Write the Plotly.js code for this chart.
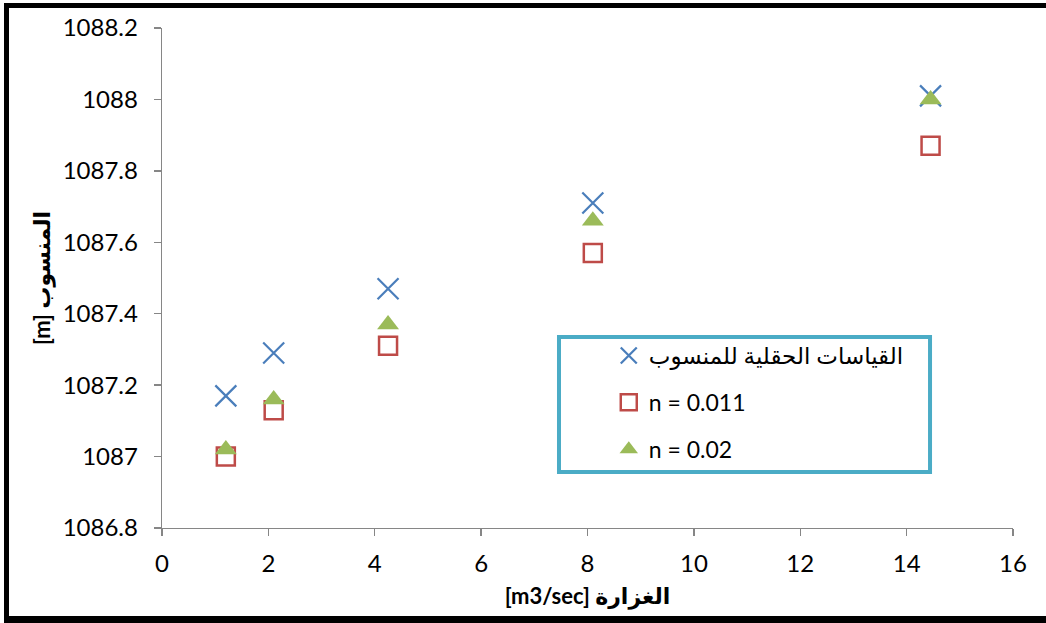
<!DOCTYPE html>
<html>
<head>
<meta charset="utf-8">
<script src="https://cdn.plot.ly/plotly-3.0.1.min.js"></script>
<style>
  html, body { margin: 0; padding: 0; background: #ffffff; overflow: hidden; }
  #chart { width: 1046px; height: 623px; }
  #frame {
    position: absolute; left: 4px; top: 3px; width: 1100px; height: 620px;
    box-sizing: border-box; border-left: 5px solid #000; border-top: 5px solid #000;
    border-bottom: 7px solid #000; pointer-events: none;
  }
</style>
</head>
<body>
<div id="chart"></div>
<div id="frame"></div>
<script>
// Discharge (m3/sec) at each station
const discharge = [1.2, 2.1, 4.25, 8.1, 14.45];

// Water level (m): field measurements and two Manning n runs
const levelMeasured = [1087.17, 1087.29, 1087.47, 1087.71, 1088.01];
const levelN011 = [1087.00, 1087.13, 1087.31, 1087.57, 1087.87];
const levelN02 = [1087.02, 1087.16, 1087.37, 1087.66, 1088.00];

const seriesNames = ['القياسات الحقلية للمنسوب', 'n = 0.011', 'n = 0.02'];
const xTitle = '[m3/sec] الغزارة';
const yTitle = '[m] المنسوب';

const baseFont = 'Lato, "DejaVu Sans", sans-serif';

const traces = [
  {
    x: discharge, y: levelMeasured, name: seriesNames[0], type: 'scatter', mode: 'markers',
    legendgroup: 'a',
    marker: { symbol: 'x-thin-open', size: 21, color: '#4A7EBB', line: { color: '#4A7EBB', width: 2.2 } }
  },
  {
    x: discharge, y: levelN011, name: seriesNames[1], type: 'scatter', mode: 'markers',
    legendgroup: 'b',
    marker: { symbol: 'square-open', size: 18, color: '#BE4B48', line: { color: '#BE4B48', width: 2.5 } }
  },
  {
    x: discharge, y: levelN02, name: seriesNames[2], type: 'scatter', mode: 'markers',
    legendgroup: 'c',
    marker: { symbol: 'triangle-up', size: 19, color: '#9BBB59', line: { width: 0 } }
  }
];

const layout = {
  width: 1046, height: 623,
  margin: { l: 162, r: 33, t: 28, b: 95 },
  paper_bgcolor: '#ffffff', plot_bgcolor: '#ffffff',
  font: { family: baseFont, size: 22, color: '#000000' },
  showlegend: true,
  legend: {
    x: 0.525, xanchor: 'left', y: 0.388, yanchor: 'top',
    bgcolor: 'rgba(0,0,0,0)', borderwidth: 0,
    font: { family: baseFont, size: 23, color: '#000000' },
    traceorder: 'grouped', tracegroupgap: 14
  },
  shapes: [{
    type: 'rect', xref: 'paper', yref: 'paper', layer: 'below',
    x0: 0.4665, x1: 0.9025, y0: 0.112, y1: 0.382,
    line: { color: '#4BACC6', width: 4 }, fillcolor: '#ffffff'
  }],
  xaxis: {
    range: [0, 16], dtick: 2, tick0: 0,
    showgrid: false, zeroline: false,
    showline: true, linecolor: '#868686', linewidth: 1.3,
    ticks: 'outside', ticklen: 7, tickcolor: '#868686', tickwidth: 1.3,
    ticklabelstandoff: 7,
    tickfont: { family: baseFont, size: 24, color: '#000000' },
    title: { text: xTitle, standoff: 12, font: { family: baseFont, size: 22, color: '#000000', weight: 'bold' } }
  },
  yaxis: {
    range: [1086.8, 1088.2], dtick: 0.2, tick0: 1086.8,
    tickformat: '.1~f',
    showgrid: false, zeroline: false,
    showline: true, linecolor: '#868686', linewidth: 1.3,
    ticks: 'outside', ticklen: 7, tickcolor: '#868686', tickwidth: 1.3,
    ticklabelstandoff: 11,
    tickfont: { family: baseFont, size: 24, color: '#000000' },
    title: { text: yTitle, standoff: 6, font: { family: baseFont, size: 22, color: '#000000', weight: 'bold' } }
  }
};

Plotly.newPlot('chart', traces, layout, { displayModeBar: false, staticPlot: true });
</script>
</body>
</html>
